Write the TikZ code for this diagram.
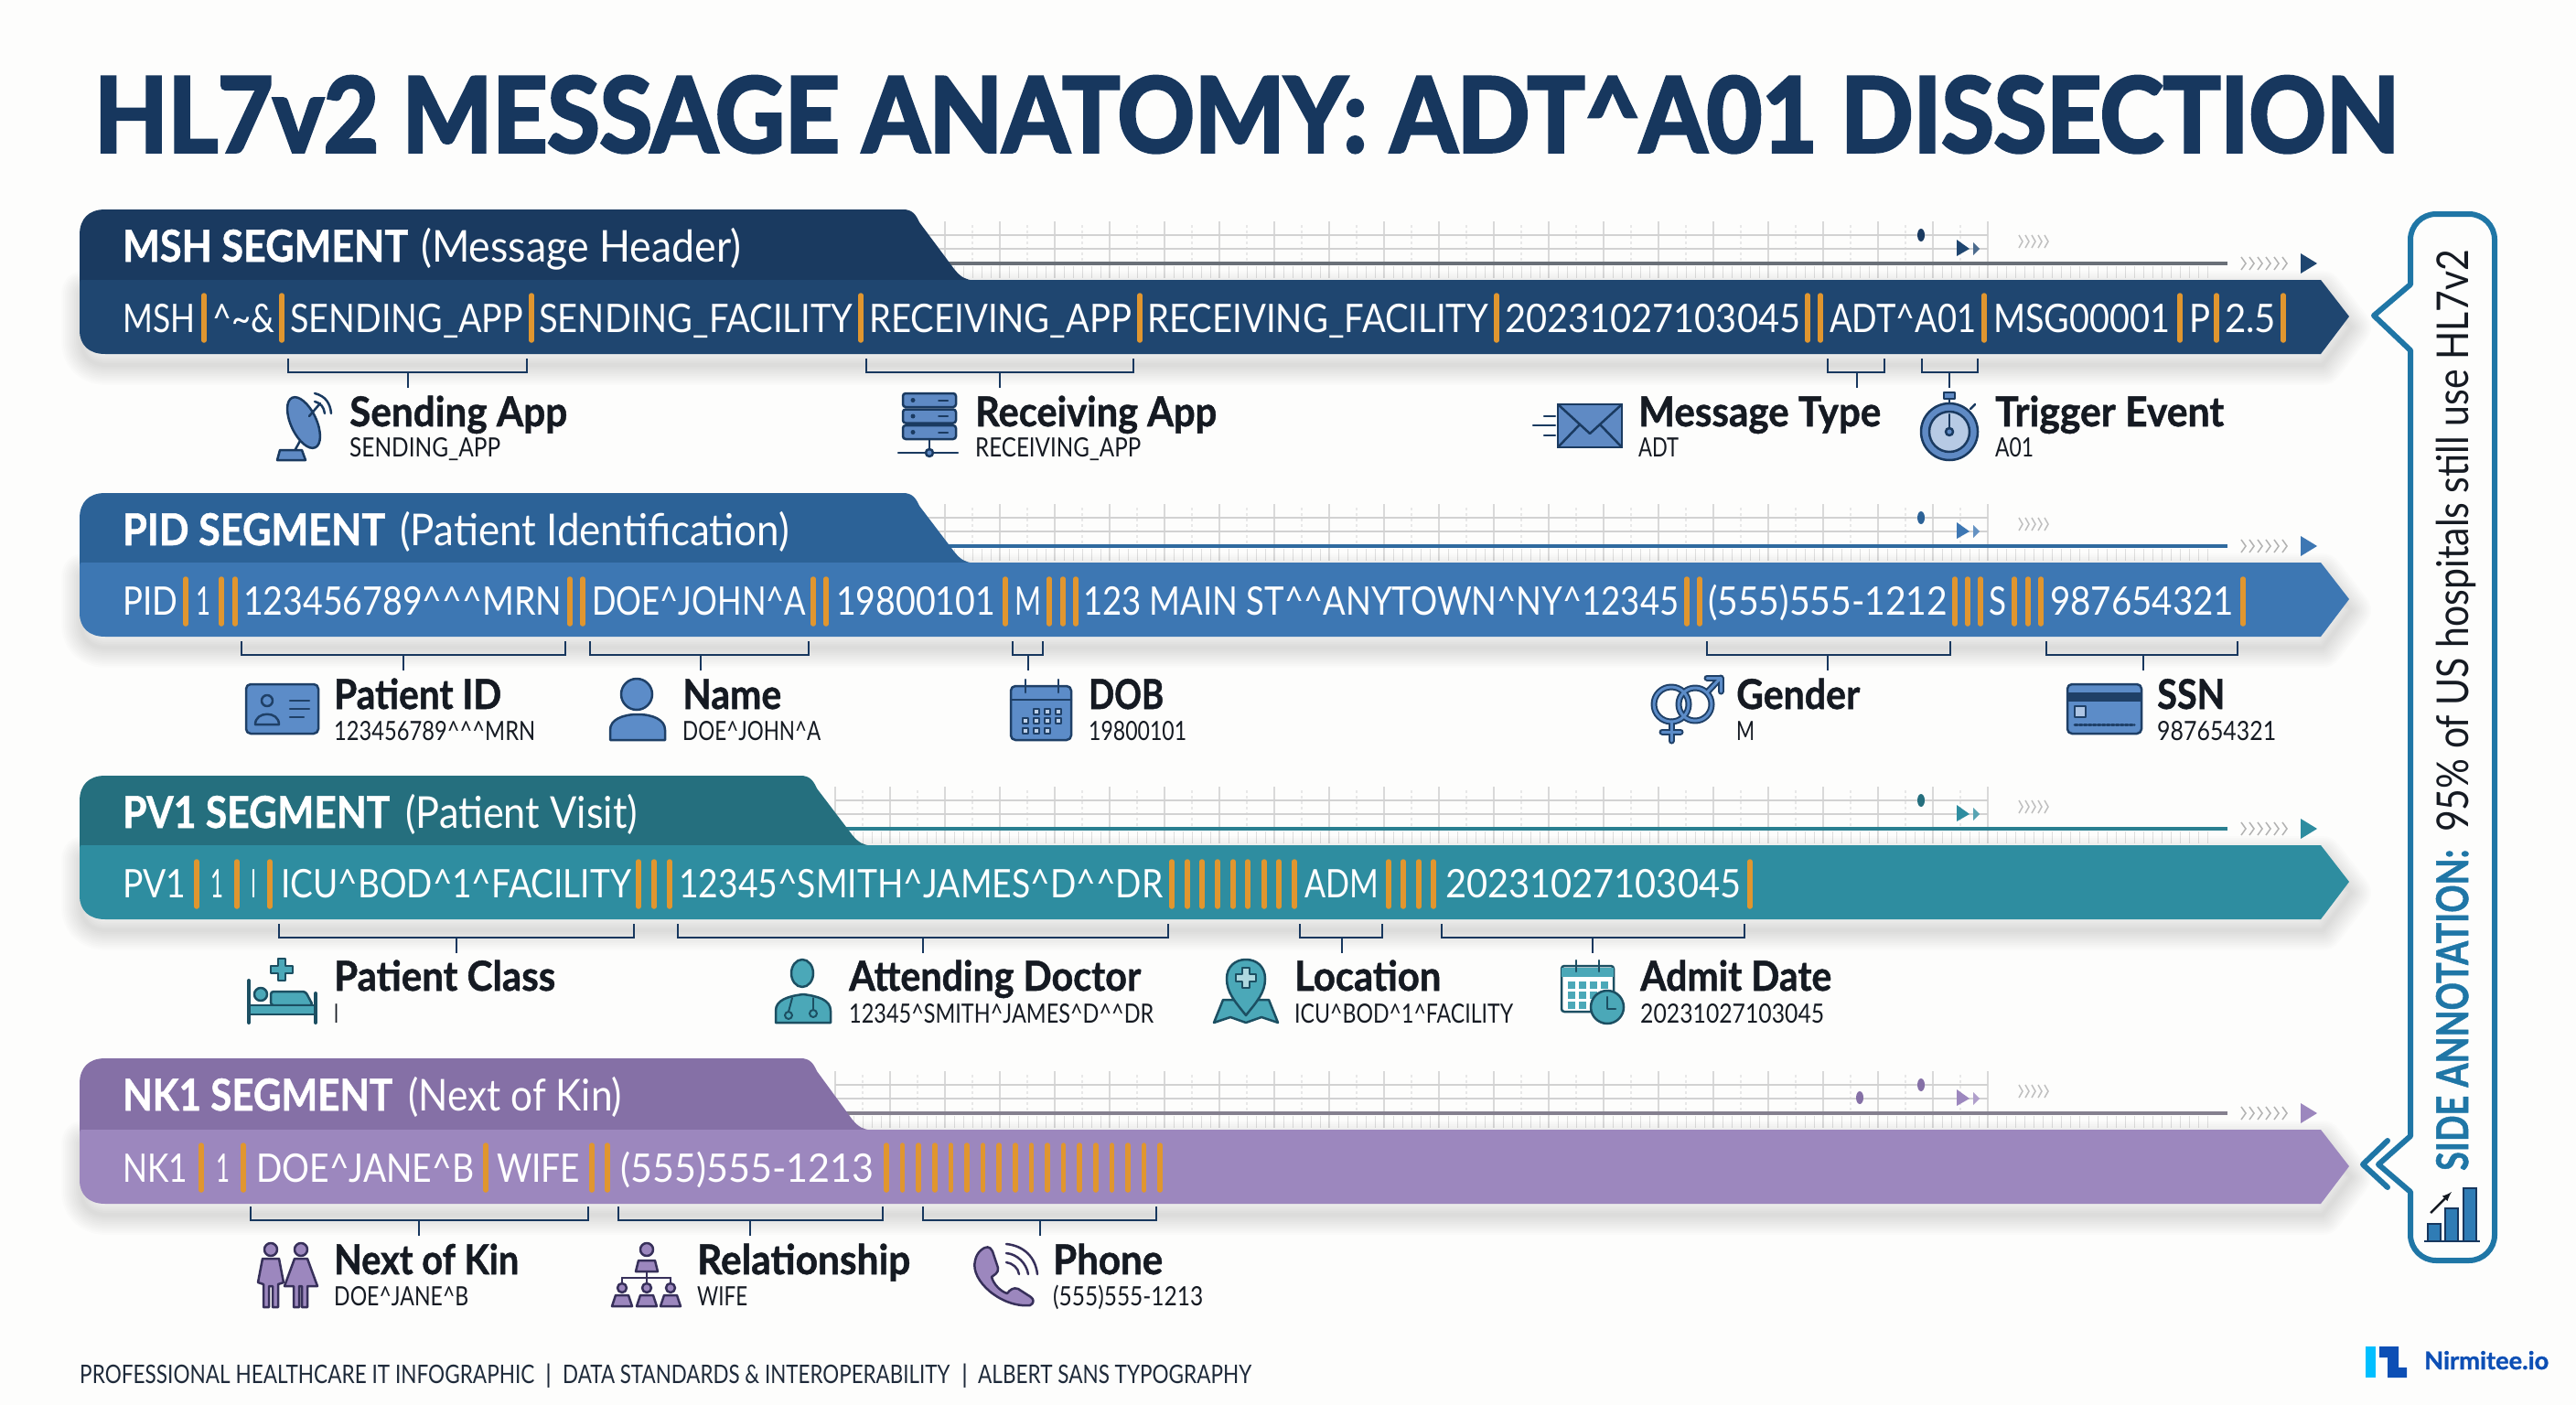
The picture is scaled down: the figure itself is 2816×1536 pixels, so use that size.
\documentclass[tikz,border=0pt]{standalone}
\usepackage{fontspec}
\usepackage{graphicx}
\setmainfont[BoldFeatures={FakeBold=1.1}]{Lato}
\newfontfamily\heavyfont[BoldFeatures={FakeBold=3.2}]{Lato}
\usepackage{tikz}

% squeeze a text to the width it has in the infographic
\newcommand{\fitw}[2]{\resizebox{#1pt}{\height}{#2}}
\newcommand{\crt}{\textasciicircum}

\definecolor{pagebg}{HTML}{FDFDFC}
\definecolor{titleink}{HTML}{17375E}
\definecolor{labelink}{HTML}{151A22}
\definecolor{footink}{HTML}{1E2A3A}
\definecolor{sepcol}{HTML}{E0962F}
\definecolor{mshtab}{HTML}{1A3A60}
\definecolor{mshbar}{HTML}{1F4670}
\definecolor{mshrule}{HTML}{6A7078}
\definecolor{mshfill}{HTML}{5F8AC4}
\definecolor{pidtab}{HTML}{2C6297}
\definecolor{pidbar}{HTML}{3D77B3}
\definecolor{pidrule}{HTML}{2F6A9F}
\definecolor{pidfill}{HTML}{5C8CC8}
\definecolor{pidink}{HTML}{1F4067}
\definecolor{pvtab}{HTML}{256F7E}
\definecolor{pvbar}{HTML}{2E8DA0}
\definecolor{pvrule}{HTML}{2A7F90}
\definecolor{pvfill}{HTML}{4BA8B8}
\definecolor{pvink}{HTML}{1C4F62}
\definecolor{nktab}{HTML}{8570A6}
\definecolor{nkbar}{HTML}{9C87BE}
\definecolor{nkrule}{HTML}{85808F}
\definecolor{nkfill}{HTML}{9C87BE}
\definecolor{nkink}{HTML}{37305A}
\definecolor{calloutcol}{HTML}{1F76A6}
\definecolor{chartcol}{HTML}{2F7CB5}
\definecolor{logocyan}{HTML}{00BFFF}
\definecolor{logoblue}{HTML}{0D4FB5}

\tikzset{
  fieldtext/.style={anchor=base west, inner sep=0pt, text=white, font=\fontsize{43}{50}\selectfont},
  seghead/.style={anchor=base west, inner sep=0pt, text=white, font=\fontsize{48}{54}\selectfont},
  fieldtitle/.style={anchor=base west, inner sep=0pt, text=labelink, font=\fontsize{45}{50}\selectfont\bfseries},
  fieldsub/.style={anchor=base west, inner sep=0pt, text=labelink, font=\fontsize{29}{32}\selectfont},
  footnote/.style={anchor=base west, inner sep=0pt, text=footink, font=\fontsize{28}{32}\selectfont},
  sepbar/.style={draw=sepcol, line width=5.5pt, line cap=round},
  bracketline/.style={draw=titleink, line width=2.5pt},
  gridline/.style={draw=gray!30, line width=1.2pt},
  chevron/.style={line width=1.5pt, line join=miter}
}

\begin{document}
\begin{tikzpicture}[x=1pt, y=-1pt]
    \useasboundingbox (0,0) rectangle (2816,1536);
    \fill[pagebg] (0,0) rectangle (2816,1536);

    \node[anchor=base west, inner sep=0pt, text=titleink, font=\fontsize{113}{120}\selectfont\heavyfont\bfseries] (title) at (103,166)
        {\fitw{2519}{HL7v2 MESSAGE ANATOMY: ADT\crt A01 DISSECTION}};

    % one band per segment: grid behind, then shadow, tab and arrow bar
    \foreach \bartop/\tabtop/\tabend/\tabcol/\barcol/\rulecol in {
        306/229/997/mshtab/mshbar/mshrule,
        615/539/997/pidtab/pidbar/pidrule,
        924/848/885/pvtab/pvbar/pvrule,
        1235/1157/885/nktab/nkbar/nkrule} {

        \foreach \x in {913,973,...,2173} {
            \draw[gridline] (\x,\bartop-64) -- (\x,\bartop-2);
        }
        \foreach \x in {943,1003,...,2143} {
            \draw[gridline, draw=gray!18, dashed] (\x,\bartop-60) -- (\x,\bartop-20);
        }
        \foreach \x in {913,923,...,2420} {
            \draw[gridline, draw=gray!25, line width=1pt] (\x,\bartop-15) -- (\x,\bartop-2);
        }
        \draw[gridline, draw=gray!35, line width=2pt] (913,\bartop-49) -- (2173,\bartop-49);
        \draw[gridline, draw=gray!35, line width=2pt] (913,\bartop-34) -- (2173,\bartop-34);
        \draw[draw=\rulecol, line width=4pt] (913,\bartop-18) -- (2435,\bartop-18);

        \fill[\tabcol] (2100,\bartop-49) ellipse (4 and 7);
        \fill[\barcol] (2139,\bartop-44) -- (2153,\bartop-34) -- (2139,\bartop-26) -- cycle;
        \fill[\barcol!80] (2157,\bartop-41) -- (2164,\bartop-34) -- (2157,\bartop-27) -- cycle;
        \foreach \x in {2207,2214,...,2240} {
            \draw[chevron, draw=gray!50] (\x,\bartop-49) -- (\x+4,\bartop-42) -- (\x,\bartop-35);
        }
        \foreach \x in {2450,2459,...,2495} {
            \draw[chevron, draw=gray!60] (\x,\bartop-25) -- (\x+5,\bartop-18) -- (\x,\bartop-11);
        }
        \fill[\barcol] (2515,\bartop-29) -- (2533,\bartop-18) -- (2515,\bartop-7) -- cycle;

        \def\barshape{(87,\bartop+3) .. controls (87,\bartop) and (88,\bartop) .. (92,\bartop) -- (2537,\bartop) -- (2568,\bartop+40) -- (2537,\bartop+81) -- (115,\bartop+81) .. controls (97,\bartop+81) and (87,\bartop+71) .. (87,\bartop+55) -- cycle}
        \foreach \s in {4,8,...,44} {
            \draw[line width=\s pt, draw=black, opacity=.012, line join=round, shift={(2,12)}] \barshape;
        }
        \fill[\tabcol] (87,\bartop+10) -- (87,\tabtop+28) .. controls (87,\tabtop+10) and (97,\tabtop) .. (115,\tabtop)
            -- (\tabend-10,\tabtop) .. controls (\tabend,\tabtop) and (\tabend+4,\tabtop+5) .. (\tabend+8,\tabtop+14)
            -- (\tabend+46,\bartop-12) .. controls (\tabend+54,\bartop-2) and (\tabend+58,\bartop-1) .. (\tabend+68,\bartop+1) -- cycle;
        \fill[\barcol] \barshape;
    }
    \fill[nktab] (2033,1200) ellipse (4 and 7);

    % segment headers
    \node[seghead] (mshkey) at (134,286) {\fitw{312}{\bfseries MSH SEGMENT}};
    \node[seghead] (mshname) at (460,286) {\fitw{350}{(Message Header)}};
    \node[seghead] (pidkey) at (134,596) {\fitw{287}{\bfseries PID SEGMENT}};
    \node[seghead] (pidname) at (437,596) {\fitw{426}{(Patient Identification)}};
    \node[seghead] (pvkey) at (134,905) {\fitw{292}{\bfseries PV1 SEGMENT}};
    \node[seghead] (pvname) at (443,905) {\fitw{254}{(Patient Visit)}};
    \node[seghead] (nkkey) at (134,1214) {\fitw{295}{\bfseries NK1 SEGMENT}};
    \node[seghead] (nkname) at (446,1214) {\fitw{234}{(Next of Kin)}};

    % message text and the orange field separators
    \foreach \x/\w/\lab [count=\i] in {134/79/MSH, 232/68/\crt\textasciitilde\&, 317/255/SENDING\_APP, 589/343/SENDING\_FACILITY,
        950/287/RECEIVING\_APP, 1254/373/RECEIVING\_FACILITY, 1645/323/20231027103045, 2000/160/ADT\crt A01,
        2179/193/MSG00001, 2393/23/P, 2432/56/2.5} {
        \node[fieldtext] (mshf\i) at (\x,363) {\fitw{\w}{\lab}};
    }
    \foreach \x in {223,308,581,941,1246,1636,1976,1990,2169,2383,2423,2496} {
        \draw[sepbar] (\x,323) -- (\x,372);
    }

    \foreach \x/\w/\lab [count=\i] in {134/60/PID, 214/16/1, 266/348/123456789\crt\crt\crt MRN, 647/234/DOE\crt JOHN\crt A,
        914/174/19800101, 1109/29/M, 1184/651/123 MAIN ST\crt\crt ANYTOWN\crt NY\crt 12345, 1867/262/(555)555-1212,
        2174/19/S, 2241/201/987654321} {
        \node[fieldtext] (pidf\i) at (\x,672) {\fitw{\w}{\lab}};
    }
    \foreach \x in {203,242,257,623,637,889,903,1099,1147,1162,1176,1844,1858,2137,2151,2165,2202,2217,2231,2452} {
        \draw[sepbar] (\x,633) -- (\x,682);
    }

    \foreach \x/\w/\lab [count=\i] in {134/69/PV1, 230/14/1, 274/6/I, 307/383/ICU\crt BOD\crt 1\crt FACILITY,
        742/529/12345\crt SMITH\crt JAMES\crt D\crt\crt DR, 1426/81/ADM, 1580/323/20231027103045} {
        \node[fieldtext] (pvf\i) at (\x,981) {\fitw{\w}{\lab}};
    }
    \foreach \x in {215,259,295,698,715,732,1281,1298,1314,1331,1348,1364,1382,1398,1415,1518,1534,1551,1567,1913} {
        \draw[sepbar] (\x,942) -- (\x,991);
    }

    \foreach \x/\w/\lab [count=\i] in {134/71/NK1, 236/15/1, 280/238/DOE\crt JANE\crt B, 543/91/WIFE, 678/277/(555)555-1213} {
        \node[fieldtext] (nkf\i) at (\x,1292) {\fitw{\w}{\lab}};
    }
    \foreach \x in {220,266,531,647,664,969,986.6,1004.2,1021.8,1039.4,1057,1074.6,1092.2,1109.8,1127.4,1145,1162.6,1180.2,1197.8,1215.4,1233,1250.6,1268} {
        \draw[sepbar] (\x,1252) -- (\x,1301);
    }

    % brackets under the fields, each with its stem
    \foreach \seg/\xa/\xb/\xs/\ya in {send/315/576/446/392, recv/947/1239/1093/392, mtype/1998/2060/2030/392, trig/2101/2162/2131/392,
        ptid/264/618/441/701, name/645/884/766/701, dob/1107/1140/1124/701, gend/1866/2132/1998/701, ssn/2237/2446/2343/701,
        pcls/305/693/499/1010, doc/741/1277/1009/1010, loc/1421/1511/1467/1010, adm/1576/1907/1741/1010,
        kin/274/643/458/1319, rel/676/965/820/1319, phon/1009/1264/1137/1319} {
        \coordinate (\seg l) at (\xa,\ya);
        \coordinate (\seg r) at (\xb,\ya);
        \coordinate (\seg m) at (\xs,\ya+15);
        \coordinate (\seg e) at (\xs,\ya+32);
        \draw[bracketline] (\seg l) -- ++(0,15) -| (\seg r);
        \draw[bracketline] (\seg m) -- (\seg e);
    }

    % field captions
    \foreach \seg/\x/\yt/\ys/\wt/\ws/\ttl/\lsub in {
        send/382/466/499/238/165/Sending App/SENDING\_APP,
        recv/1066/466/499/264/181/Receiving App/RECEIVING\_APP,
        mtype/1791/466/499/265/44/Message Type/ADT,
        trig/2181/466/499/250/42/Trigger Event/A01,
        ptid/365/775/809/183/220/Patient ID/123456789\crt\crt\crt MRN,
        name/746/775/809/108/151/Name/DOE\crt JOHN\crt A,
        dob/1190/775/809/82/107/DOB/19800101,
        gend/1898/775/809/135/20/Gender/M,
        ssn/2358/775/809/74/130/SSN/987654321,
        pcls/365/1083/1118/242/5/Patient Class/I,
        doc/928/1083/1118/319/333/Attending Doctor/12345\crt SMITH\crt JAMES\crt D\crt\crt DR,
        loc/1415/1083/1118/160/239/Location/ICU\crt BOD\crt 1\crt FACILITY,
        adm/1793/1083/1118/209/201/Admit Date/20231027103045,
        kin/365/1393/1427/202/147/Next of Kin/DOE\crt JANE\crt B,
        rel/762/1393/1427/233/55/Relationship/WIFE,
        phon/1151/1393/1427/120/164/Phone/(555)555-1213} {
        \node[fieldtitle] (\seg title) at (\x,\yt) {\fitw{\wt}{\ttl}};
        \node[fieldsub] (\seg value) at (\x,\ys) {\fitw{\ws}{\lsub}};
    }

    % icons of the MSH row
    \begin{scope}[draw=mshtab, fill=mshfill, line width=2.5pt, line join=round, line cap=round]
        \draw (328,482) -- (322,493);
        \filldraw (303,503) -- (306,492) -- (330,492) -- (334,503) -- cycle;
        \filldraw[rotate around={25:(332,462)}] (332,462) ellipse (14 and 30);
        \draw (338,455) -- (350,441);
        \draw (344,430) .. controls (356,433) and (361,441) .. (362,452);
        \draw (344,439) .. controls (351,441) and (354,445) .. (355,452);

        \foreach \y in {430,447.5,465} {
            \filldraw[rounded corners=3pt] (987,\y) rectangle (1045,\y+15);
            \fill[mshtab] (998,\y+7.5) circle (2.5);
            \draw[line width=2pt] (1026,\y+7.5) -- (1036,\y+7.5);
        }
        \draw (1016,480) -- (1016,495);
        \draw (982,495) -- (1047,495);
        \filldraw (1016,495) circle (4);

        \filldraw (1703,442) rectangle (1773,489);
        \draw (1703,442) -- (1738,474) -- (1773,442);
        \draw (1703,489) -- (1727,464);
        \draw (1773,489) -- (1749,464);
        \draw (1688,455) -- (1700,455);
        \draw (1676,465) -- (1700,465);
        \draw (1688,476) -- (1700,476);

        \filldraw (2125,429) rectangle (2137,436);
        \draw (2131,436) -- (2131,441);
        \draw (2154,447) -- (2159,442);
        \filldraw (2131,472) circle (31);
        \filldraw[fill=mshfill!45] (2131,472) circle (22);
        \draw (2131,472) -- (2131,453);
        \filldraw (2131,472) circle (4);
    \end{scope}

    % icons of the PID row
    \begin{scope}[draw=pidink, fill=pidfill, line width=2.5pt, line join=round, line cap=round]
        \filldraw[rounded corners=5pt] (269,748) rectangle (348,802);
        \draw (292,766) circle (6);
        \draw (279,792) .. controls (279,777) and (305,777) .. (305,792) -- cycle;
        \draw (317,766) -- (338,766);
        \draw (317,775) -- (338,775);
        \draw (317,784) -- (332,784);

        \filldraw (696,759) circle (17);
        \filldraw (667,809) -- (667,798) .. controls (667,787) and (680,781) .. (697,781) .. controls (714,781) and (727,787) .. (727,798) -- (727,809) -- cycle;

        \filldraw[rounded corners=5pt] (1105,750) rectangle (1171,809);
        \draw (1105,765) -- (1171,765);
        \draw (1121,743) -- (1121,757);
        \draw (1157,743) -- (1157,757);
        \foreach \x/\y in {1130/775,1142/775,1154/775,1118/785,1130/785,1142/785,1154/785,1118/796,1130/796,1142/796} {
            \draw[line width=1.8pt, fill=pidfill!40] (\x,\y) rectangle (\x+6,\y+6);
        }

        % ring symbols are drawn twice for the dark outline
        \foreach \w/\c in {7pt/pidink, 3pt/pidfill} {
            \draw[line width=\w, draw=\c] (1827,770) circle (19);
            \draw[line width=\w, draw=\c] (1853,770) circle (18);
            \draw[line width=\w, draw=\c] (1866,757) -- (1881,741);
            \draw[line width=\w, draw=\c] (1866,741) -- (1881,741) -- (1881,756);
            \draw[line width=\w, draw=\c] (1827,789) -- (1827,810);
            \draw[line width=\w, draw=\c] (1817,800) -- (1837,800);
        }

        \filldraw[rounded corners=5pt] (2260,748) rectangle (2341,802);
        \fill[pidink] (2260,757) rectangle (2341,767);
        \draw[line width=2pt, fill=pidfill!50] (2268,772) rectangle (2280,784);
        \draw[line width=3pt, dash pattern=on 3pt off 2pt] (2268,792) -- (2333,792);
    \end{scope}

    % icons of the PV1 row
    \begin{scope}[draw=pvink, fill=pvfill, line width=2.5pt, line join=round, line cap=round]
        \filldraw (304,1048) -- (312,1048) -- (312,1056) -- (320,1056) -- (320,1064) -- (312,1064) -- (312,1072) -- (304,1072) -- (304,1064) -- (296,1064) -- (296,1056) -- (304,1056) -- cycle;
        \filldraw[rounded corners=3pt] (296,1084) -- (334,1084) -- (342,1099) -- (296,1099) -- cycle;
        \filldraw (285,1087) circle (7);
        \filldraw (272,1099) rectangle (345,1109);
        \draw[line width=4pt] (272,1072) -- (272,1118);
        \draw[line width=4pt] (345,1086) -- (345,1118);

        \filldraw (848,1118) -- (848,1105) .. controls (848,1093) and (862,1089) .. (878,1087) .. controls (894,1089) and (908,1093) .. (908,1105) -- (908,1118) -- cycle;
        \filldraw (877,1064) ellipse (12 and 15);
        \draw[line width=2pt] (866,1091) -- (862,1106);
        \draw[line width=2pt] (889,1091) -- (889,1104);
        \draw[line width=2pt] (862,1110) circle (4);
        \draw[line width=2pt] (889,1108) circle (4);

        \filldraw (1327,1118) -- (1337,1093) -- (1387,1093) -- (1397,1118) -- (1379,1112) -- (1362,1118) -- (1345,1112) -- cycle;
        \filldraw (1362,1110) .. controls (1350,1095) and (1341,1085) .. (1341,1070) .. controls (1341,1057) and (1350,1049) .. (1362,1049) .. controls (1374,1049) and (1383,1057) .. (1383,1070) .. controls (1383,1085) and (1374,1095) .. (1362,1110) -- cycle;
        \filldraw[fill=pvfill!45] (1358,1058) -- (1366,1058) -- (1366,1065) -- (1373,1065) -- (1373,1073) -- (1366,1073) -- (1366,1080) -- (1358,1080) -- (1358,1073) -- (1351,1073) -- (1351,1065) -- (1358,1065) -- cycle;

        \filldraw[fill=white, rounded corners=3pt] (1707,1056) rectangle (1764,1106);
        \fill[pvfill] (1707,1058) rectangle (1764,1068);
        \draw (1723,1050) -- (1723,1062);
        \draw (1748,1050) -- (1748,1062);
        \foreach \x/\y in {1714/1073,1726/1073,1738/1073,1750/1073,1714/1084,1726/1084,1738/1084,1714/1095,1726/1095} {
            \fill[pvfill] (\x,\y) rectangle (\x+8,\y+8);
        }
        \filldraw (1757,1101) circle (18);
        \draw (1757,1090) -- (1757,1103) -- (1766,1103);
    \end{scope}

    % icons of the NK1 row
    \begin{scope}[draw=nkink, fill=nkfill, line width=2.5pt, line join=round, line cap=round]
        \filldraw (296,1366) circle (7);
        \filldraw (329,1366) circle (7);
        \filldraw (287,1376) -- (305,1376) -- (310,1402) -- (304,1404) -- (304,1429) -- (298,1429) -- (298,1406) -- (294,1406) -- (294,1429) -- (288,1429) -- (288,1404) -- (282,1402) -- cycle;
        \filldraw (322,1376) -- (336,1376) -- (347,1406) -- (336,1406) -- (336,1429) -- (330,1429) -- (330,1406) -- (327,1406) -- (327,1429) -- (321,1429) -- (321,1406) -- (311,1406) -- cycle;

        \filldraw (707,1366) circle (7);
        \filldraw (695,1390) -- (698,1378) -- (716,1378) -- (719,1390) -- cycle;
        \draw (707,1390) -- (707,1401);
        \draw (680,1397) -- (733,1397) ;
        \foreach \x in {680,707,733} {
            \draw (\x,1397) -- (\x,1402);
            \filldraw (\x,1408) circle (5);
            \filldraw (\x-11,1428) -- (\x-7,1416) -- (\x+7,1416) -- (\x+11,1428) -- cycle;
        }

        \filldraw (1072,1367) .. controls (1078,1362) and (1082,1362) .. (1085,1368) -- (1091,1386) .. controls (1092,1392) and (1086,1394) .. (1084,1396) .. controls (1086,1404) and (1094,1412) .. (1101,1414) .. controls (1104,1410) and (1108,1407) .. (1113,1409) -- (1127,1418) .. controls (1131,1421) and (1130,1425) .. (1126,1427) .. controls (1095,1430) and (1060,1400) .. (1066,1378) .. controls (1067,1373) and (1069,1370) .. (1072,1367) -- cycle;
        \draw (1100,1360) .. controls (1120,1362) and (1132,1375) .. (1134,1393);
        \draw (1100,1370) .. controls (1112,1371) and (1122,1381) .. (1124,1393);
        \draw (1100,1380) .. controls (1107,1381) and (1113,1386) .. (1114,1393);
    \end{scope}

    % side annotation
    \draw[draw=calloutcol, fill=pagebg, line width=6pt, line join=round] (2635,300) [rounded corners=28pt] -- (2635,234) -- (2727,234) -- (2727,1378) -- (2635,1378) [sharp corners] -- (2635,1303)
        -- (2600,1273) -- (2635,1242) -- (2635,383) -- (2595,345) -- (2635,311) -- cycle;
    \coordinate (chevtop) at (2610,1247);
    \coordinate (chevtip) at (2583,1273);
    \coordinate (chevbot) at (2610,1298);
    \draw[draw=calloutcol, line width=6pt, line cap=round, line join=round] (chevtop) -- (chevtip) -- (chevbot);
    \node[rotate=90, anchor=base west, inner sep=0pt, text=calloutcol, font=\fontsize{48}{54}\selectfont\bfseries] (sidekey) at (2698,1280) {\fitw{351}{SIDE ANNOTATION:}};
    \node[rotate=90, anchor=base west, inner sep=0pt, text=labelink, font=\fontsize{48}{54}\selectfont] (sidetext) at (2698,910) {\fitw{637}{95\% of US hospitals still use HL7v2}};

    \begin{scope}[draw=titleink, fill=chartcol, line width=2.5pt]
        \filldraw (2654,1338) rectangle (2668,1357);
        \filldraw (2673,1321) rectangle (2687,1357);
        \filldraw (2693,1299) rectangle (2707,1357);
        \draw (2650,1357) -- (2711,1357);
        \draw[-latex, draw=labelink] (2657,1326) -- (2680,1303);
    \end{scope}

    % footer and logo
    \node[footnote] (foota) at (87,1512) {\fitw{497}{PROFESSIONAL HEALTHCARE IT INFOGRAPHIC}};
    \node[footnote] (footsepa) at (596,1512) {|};
    \node[footnote] (footb) at (615,1512) {\fitw{423}{DATA STANDARDS \& INTEROPERABILITY}};
    \node[footnote] (footsepb) at (1051,1512) {|};
    \node[footnote] (footc) at (1069,1512) {\fitw{299}{ALBERT SANS TYPOGRAPHY}};
    \fill[logocyan] (2586,1472) rectangle (2597,1506);
    \fill[logoblue] (2601,1472) -- (2622,1472) -- (2622,1495) -- (2631,1495) -- (2631,1506) -- (2610,1506) -- (2610,1484) -- (2601,1484) -- cycle;
    \node[anchor=base west, inner sep=0pt, text=logoblue, font=\fontsize{27}{32}\selectfont\bfseries] (logotext) at (2650,1497) {\fitw{136}{Nirmitee.io}};
\end{tikzpicture}
\end{document}
